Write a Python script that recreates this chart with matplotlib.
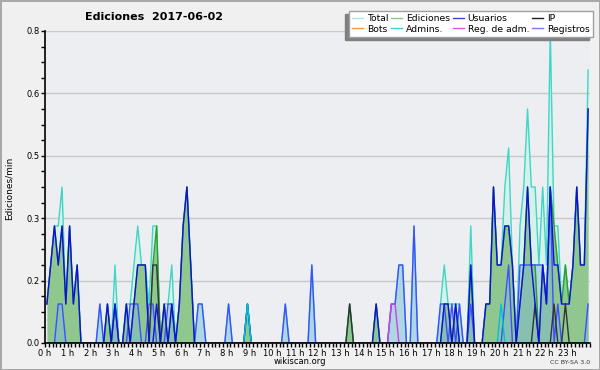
import numpy as np
import matplotlib
matplotlib.use("Agg")
import matplotlib.pyplot as plt
from matplotlib.lines import Line2D
from matplotlib.patches import Rectangle

# edits per 10-minute bin, one row per hour (6 bins)
total = [1, 2, 3, 3, 4, 1,  3, 1, 2, 0, 0, 0,  0, 0, 1, 0, 1, 0,  2, 0, 0, 1, 1, 2,
         3, 2, 2, 1, 3, 3,  0, 1, 1, 2, 0, 1,  3, 4, 2, 0, 1, 1,  0, 0, 0, 0, 0, 0,
         1, 0, 0, 0, 0, 1,  0, 0, 0, 0, 0, 0,  0, 0, 0, 1, 0, 0,  0, 0, 0, 0, 2, 0,
         0, 0, 0, 0, 0, 0,  0, 0, 1, 0, 0, 0,  0, 0, 0, 1, 0, 0,  0, 1, 1, 2, 2, 0,
         0, 3, 0, 0, 0, 0,  0, 0, 1, 2, 1, 1,  1, 1, 0, 0, 3, 0,  0, 0, 1, 1, 4, 2,
         2, 4, 5, 2, 0, 3,  4, 6, 4, 4, 2, 4,  2, 8, 3, 3, 1, 2,  1, 2, 4, 2, 2, 7]
ediciones = [1, 2, 3, 2, 3, 1,  3, 1, 2, 0, 0, 0,  0, 0, 0, 0, 1, 0,  1, 0, 0, 1, 0, 1,
             2, 2, 2, 0, 2, 3,  0, 1, 0, 1, 0, 1,  3, 4, 2, 0, 0, 0,  0, 0, 0, 0, 0, 0,
             0, 0, 0, 0, 0, 1,  0, 0, 0, 0, 0, 0,  0, 0, 0, 0, 0, 0,  0, 0, 0, 0, 0, 0,
             0, 0, 0, 0, 0, 0,  0, 0, 1, 0, 0, 0,  0, 0, 0, 1, 0, 0,  0, 0, 0, 0, 0, 0,
             0, 0, 0, 0, 0, 0,  0, 0, 0, 1, 1, 0,  1, 0, 0, 0, 2, 0,  0, 0, 1, 1, 4, 2,
             2, 3, 3, 2, 0, 1,  2, 4, 2, 2, 0, 2,  1, 4, 3, 2, 1, 2,  1, 2, 4, 2, 2, 6]
usuarios = [1, 2, 3, 2, 3, 1,  3, 1, 2, 0, 0, 0,  0, 0, 0, 0, 1, 0,  1, 0, 0, 1, 0, 1,
            2, 2, 2, 0, 0, 1,  0, 1, 0, 1, 0, 1,  3, 4, 2, 0, 0, 0,  0, 0, 0, 0, 0, 0,
            0, 0, 0, 0, 0, 1,  0, 0, 0, 0, 0, 0,  0, 0, 0, 0, 0, 0,  0, 0, 0, 0, 0, 0,
            0, 0, 0, 0, 0, 0,  0, 0, 0, 0, 0, 0,  0, 0, 0, 1, 0, 0,  0, 0, 0, 0, 0, 0,
            0, 0, 0, 0, 0, 0,  0, 0, 0, 1, 1, 0,  1, 0, 0, 0, 2, 0,  0, 0, 1, 1, 4, 2,
            2, 3, 3, 2, 0, 1,  2, 4, 2, 1, 0, 2,  1, 4, 2, 2, 1, 1,  1, 2, 4, 2, 2, 6]
ip = [0] * 28 + [2, 2] + [0] * 50 + [1] + [0] * 48 + [1] + [0] * 4 + [1, 0, 0, 1] + [0] * 6
registros = [0, 0, 0, 1, 1, 0,  0, 0, 0, 0, 0, 0,  0, 0, 1, 0, 0, 0,  1, 0, 0, 0, 1, 1,
             1, 0, 0, 1, 1, 0,  0, 0, 1, 1, 0, 0,  0, 0, 0, 0, 1, 1,  0, 0, 0, 0, 0, 0,
             1, 0, 0, 0, 0, 0,  0, 0, 0, 0, 0, 0,  0, 0, 0, 1, 0, 0,  0, 0, 0, 0, 2, 0,
             0, 0, 0, 0, 0, 0,  0, 0, 0, 0, 0, 0,  0, 0, 0, 0, 0, 0,  0, 1, 1, 2, 2, 0,
             0, 3, 0, 0, 0, 0,  0, 0, 1, 1, 0, 1,  0, 1, 0, 0, 1, 0,  0, 0, 0, 0, 0, 0,
             0, 1, 2, 0, 0, 2,  2, 2, 2, 2, 2, 2,  1, 4, 0, 1, 0, 0,  0, 0, 0, 0, 0, 1]
admins = [0] * 53 + [1] + [0] * 66 + [1] + [0] * 23
reg_adm = [0] * 91 + [1, 1] + [0] * 51
bots = [0] * 144

hour_labels = [f"{h} h" for h in range(24)]

t = (np.arange(144) + 0.5) / 6
per_min = lambda s: np.array(s) / 10.0

fig = plt.figure(figsize=(6, 3.7), dpi=100)
fig.patch.set_facecolor("#f0f0f0")
fig.patch.set_edgecolor("#a8a8a8")
fig.patch.set_linewidth(2)
ax = fig.add_axes([45 / 600, 1 - 343 / 370, 545 / 600, 312 / 370])
ax.set_facecolor("#eceef1")

ax.fill_between(t, per_min(total), color="#d6f0ea", lw=0, zorder=1)
ax.fill_between(t, per_min(ediciones), color="#8fc78f", lw=0, zorder=2)
ax.fill_between(t, per_min(registros), color="#7fb8dc", alpha=0.45, lw=0, zorder=3)

lw = 1.0
ax.plot(t, per_min(total), color="#3fd6c6", lw=lw, zorder=4)
ax.plot(t, per_min(ediciones), color="#2ca02c", lw=lw, zorder=5)
ax.plot(t, per_min(bots), color="#ff9922", lw=lw, zorder=5)
ax.plot(t, per_min(registros), color="#3f4fff", lw=lw, zorder=6)
ax.plot(t, per_min(ip), color="#333333", lw=lw, zorder=7)
ax.plot(t, per_min(usuarios), color="#1010d8", lw=lw, zorder=8)
ax.plot(t, per_min(admins), color="#00c0e0", lw=lw, zorder=9)
ax.plot(t, per_min(reg_adm), color="#d040e0", lw=lw, zorder=9)

ax.set_xlim(0, 24)
ax.set_ylim(0, 0.8)
ax.set_yticks(np.arange(0, 0.81, 0.16))
ax.set_yticklabels(["%.1f" % v for v in np.arange(0, 0.81, 0.16)])
ax.set_yticks(np.arange(0, 0.81, 0.04), minor=True)
ax.set_xticks(np.arange(24))
ax.set_xticklabels(hour_labels)
ax.set_xticks(np.arange(0, 24.01, 1 / 6), minor=True)
ax.tick_params(which="both", direction="out", length=3, width=1, color="black",
               labelsize=6, pad=1)
ax.grid(axis="y", which="major", color="#c8c8c8", lw=1)
ax.set_axisbelow(True)
for side in ["top", "right"]:
    ax.spines[side].set_visible(False)
for side in ["left", "bottom"]:
    ax.spines[side].set_linewidth(1.2)
    ax.spines[side].set_zorder(20)

fig.text(154 / 600, 1 - 17 / 370, "Ediciones  2017-06-02", ha="center", va="center",
         fontsize=8, fontweight="bold")
fig.text(9 / 600, 1 - 188 / 370, "Ediciones/min", rotation=90, ha="center",
         va="center", fontsize=6.5)
fig.text(300 / 600, 1 - 361 / 370, "wikiscan.org", ha="center", va="center", fontsize=6)
fig.text(590 / 600, 1 - 362 / 370, "CC BY-SA 3.0", ha="right", va="center",
         fontsize=4.5, color="#333333")

names = ["Total", "Bots", "Ediciones", "Admins.", "Usuarios", "Reg. de adm.", "IP", "Registros"]
colors = ["#a8e8e0", "#f0a030", "#88cc88", "#40d0e0", "#4040dd", "#dd55dd", "#222222", "#7777ff"]
handles = [Line2D([], [], color=c, lw=1) for c in colors]
leg = fig.legend(handles, names, ncol=4, loc="upper right",
                 bbox_to_anchor=(593 / 600, 1 - 11 / 370), fontsize=6.7,
                 handlelength=1.2, handletextpad=0.4, columnspacing=0.3,
                 labelspacing=0.15, borderpad=0.35, borderaxespad=0,
                 fancybox=False, edgecolor="#a0a0a0", framealpha=1)
leg.set_zorder(10)
fig.canvas.draw()
bb = leg.get_window_extent()
fig.patches.append(Rectangle((bb.x0 - 4, bb.y0 - 3), bb.width, bb.height,
                             transform=None, color="#808080", zorder=5))

fig.savefig("out.png", dpi=100, facecolor=fig.get_facecolor(), edgecolor=fig.patch.get_edgecolor())
